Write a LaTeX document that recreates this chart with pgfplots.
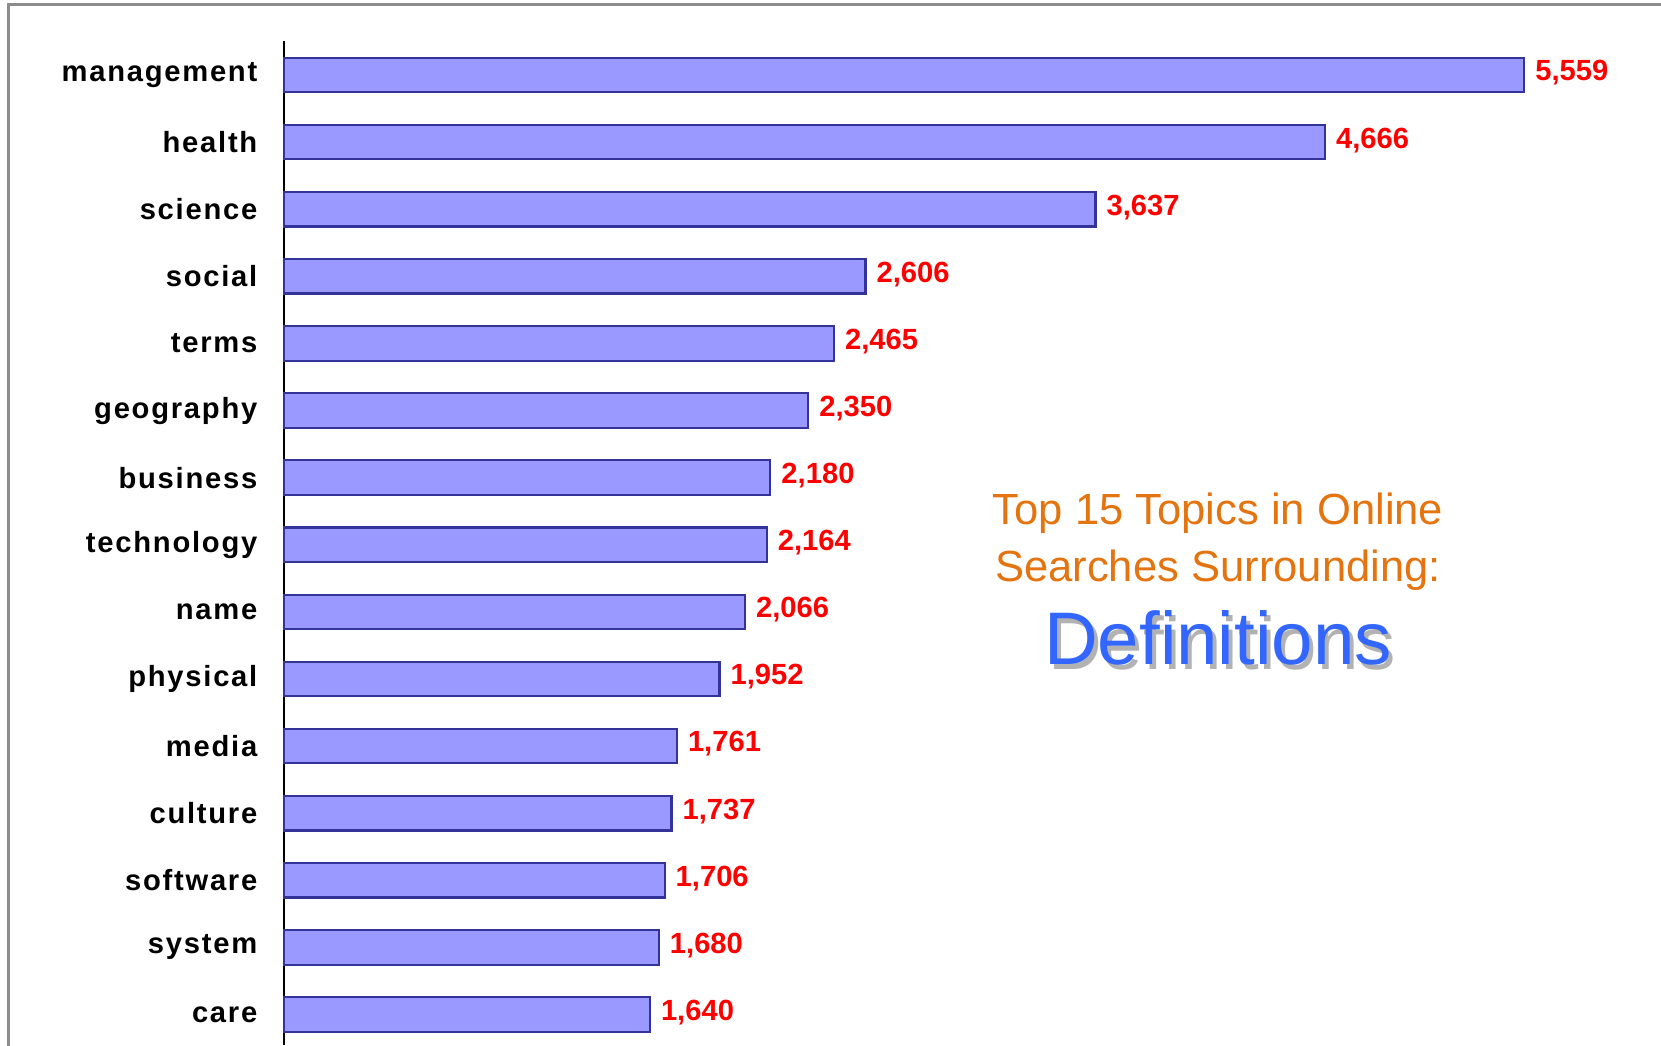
\documentclass[border=0pt]{standalone}
\usepackage{fontspec}
\setmainfont{Liberation Sans}
\newfontfamily\labfont[LetterSpace=6]{Liberation Sans}
\usepackage{pgfplots}
\pgfplotsset{compat=1.18}
\definecolor{barfill}{HTML}{9999FF}
\definecolor{barline}{HTML}{333399}
\definecolor{ttlorange}{HTML}{E3740F}
\definecolor{ttlblue}{HTML}{3366FF}
\begin{document}
\begin{tikzpicture}[x=1cm,y=1cm]
\useasboundingbox (0,0) rectangle (16.61,10.45);
\draw[draw=gray!90, line width=0.022cm] (0.085,-0.1) -- (0.085,10.405) -- (16.8,10.405);
\begin{axis}[
  at={(2.84cm,0cm)}, anchor=south west,
  scale only axis, width=13.77cm, height=10.04cm,
  xmin=0, xmax=6172, ymin=-0.455, ymax=14.507,
  axis x line=none, axis y line=left,
  y axis line style={-, line width=0.02cm, black},
  xbar, bar width=0.345cm,
  ytick={0,...,14},
  yticklabels={care,system,software,culture,media,physical,name,technology,business,geography,terms,social,science,health,management},
  major tick length=0pt,
  yticklabel style={font=\labfont\bfseries\fontsize{8.3}{10}\selectfont, anchor=east, inner sep=0pt, xshift=-0.26cm, yshift=0.0cm},
  /pgf/number format/.cd, 1000 sep={,}, assume math mode=true,
  /pgfplots/.cd,
  nodes near coords,
  nodes near coords style={font=\bfseries\fontsize{8.3}{10}\selectfont, text=red, anchor=west, inner sep=0pt, xshift=0.1cm, yshift=0.02cm},
  clip=false,
]
\addplot[fill=barfill, draw=barline, line width=0.022cm] coordinates {
(1640,0) (1680,1) (1706,2) (1737,3) (1761,4) (1952,5) (2066,6) (2164,7) (2180,8) (2350,9) (2465,10) (2606,11) (3637,12) (4666,13) (5559,14)};
\end{axis}
\node[anchor=base, text=ttlorange, font=\fontsize{12.4}{14}\selectfont] at (12.18,5.20) {Top 15 Topics in Online};
\node[anchor=base, text=ttlorange, font=\fontsize{12.4}{14}\selectfont] at (12.18,4.63) {Searches Surrounding:};
\node[anchor=base, text=gray!60, font=\fontsize{21.2}{24}\selectfont] at (12.22,3.76) {Definitions};
\node[anchor=base, text=ttlblue, font=\fontsize{21.2}{24}\selectfont] at (12.18,3.80) {Definitions};
\end{tikzpicture}
\end{document}
